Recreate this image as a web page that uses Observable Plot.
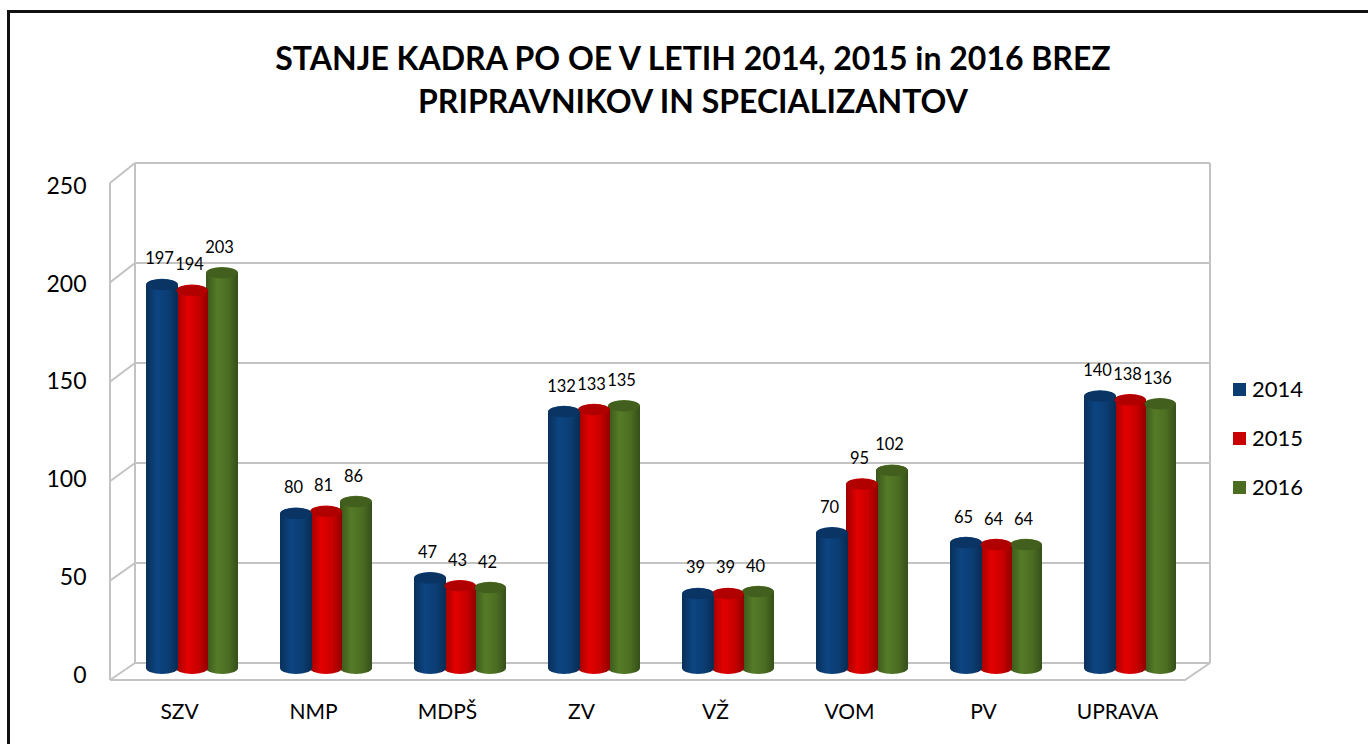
<!DOCTYPE html>
<html><head><meta charset="utf-8">
<script src="https://cdn.jsdelivr.net/npm/d3@7"></script>
<script src="https://cdn.jsdelivr.net/npm/@observablehq/plot@0.6"></script>
<style>
body{margin:0;background:#fff;font-family:Lato,"Open Sans",sans-serif;}
#wrap{position:relative;width:1368px;height:744px;overflow:hidden;}
#frame{position:absolute;left:7px;top:10px;width:2000px;height:2000px;border-left:3px solid #111;border-top:3px solid #111;pointer-events:none;}
#title{height:140px;box-sizing:border-box;padding-top:36px;padding-left:18px;text-align:center;font-weight:bold;font-size:32px;line-height:43px;color:#000;}
#legend{position:absolute;left:1233px;top:375px;font-size:22px;color:#000;}
#legend div{height:49px;display:flex;align-items:flex-start;}
#legend span.sw{display:inline-block;width:13px;height:13px;margin-top:8px;margin-right:6px;}
</style></head>
<body><div id="wrap"><div id="frame"></div>
<div id="title">STANJE KADRA PO OE V LETIH 2014, 2015 in 2016 BREZ<br>PRIPRAVNIKOV IN SPECIALIZANTOV</div>
<div id="chart"></div>
<div id="legend"></div>
</div>
<script>
const categories = ["SZV","NMP","MDPŠ","ZV","VŽ","VOM","PV","UPRAVA"];
const years = ["2014","2015","2016"];
const values2014 = [197,80,47,132,39,70,65,140];
const values2015 = [194,81,43,133,39,95,64,138];
const values2016 = [203,86,42,135,40,102,64,136];
const yTicks = [0,50,100,150,200,250];
const seriesColors = ["#0b3d73","#c80000","#4b6d22"];
const capColors = ["#093463","#b00000","#425f1d"];

const seriesValues = [values2014, values2015, values2016];
const rows = [];
years.forEach((yr, i) => categories.forEach((c, j) => rows.push({cat: c, year: yr, i, value: seriesValues[i][j]})));

const barW = 32, barStep = 30;
const marks = [];
// draw 2016 first so earlier years overlap it
for (let i = years.length - 1; i >= 0; i--) {
  marks.push(Plot.barY(rows.filter(d => d.i === i), {
    x: "cat", y: "value", fill: `url(#cyl${i})`,
    insetLeft: i * barStep, insetRight: 92 - (i * barStep + barW),
    insetTop: -6, insetBottom: -4, rx: barW / 2, ry: 6
  }));
}
years.forEach((yr, i) => {
  marks.push(Plot.text(rows.filter(d => d.i === i), {
    x: "cat", y: "value", text: d => String(d.value),
    dx: barStep * i - 30 - 3, dy: -26, fontSize: 16.5, fill: "#000"
  }));
});
marks.push(Plot.axisY(yTicks, {tickSize: 0, tickPadding: 38, dy: 5, fontSize: 23, tickFormat: d => String(d)}));
marks.push(Plot.axisX({tickSize: 0, tickPadding: 34, dx: -13, fontSize: 21}));

const plot = Plot.plot({
  width: 1368, height: 604,
  marginTop: 41, marginBottom: 74, marginLeft: 124, marginRight: 170,
  x: {domain: categories, paddingInner: 0.3147, paddingOuter: 0.1574, label: null},
  y: {domain: [0, 250], label: null},
  style: {fontFamily: "Lato, 'Open Sans', sans-serif", color: "#000", background: "transparent", overflow: "visible"},
  marks
});
document.getElementById("chart").appendChild(plot);

// gradients for cylinders
const svg = d3.select(plot);
const defs = svg.insert("defs", ":first-child");
seriesColors.forEach((c, i) => {
  const base = d3.color(c);
  const g = defs.append("linearGradient").attr("id", `cyl${i}`).attr("x1", 0).attr("x2", 1).attr("y1", 0).attr("y2", 0);
  g.append("stop").attr("offset", "0%").attr("stop-color", base.darker(0.7));
  g.append("stop").attr("offset", "35%").attr("stop-color", base.brighter(0.35));
  g.append("stop").attr("offset", "70%").attr("stop-color", base);
  g.append("stop").attr("offset", "100%").attr("stop-color", base.darker(0.9));
});

// 3D frame (walls and floor) using the plot's scales
const xs = plot.scale("x"), ys = plot.scale("y");
const s0 = ys.apply(0), s250 = ys.apply(250);
const back = t => 523 + (ys.apply(t) - s0) * 500 / (s0 - s250);
const front = t => 540 + (ys.apply(t) - s0) * 497 / (s0 - s250);
const bl = xs.range[0] + 11, br = xs.range[1] + 12, fl = xs.range[0] - 14, fr = xs.range[1] - 13;
const grid = svg.insert("g", "g").attr("stroke", "#c3c3c3").attr("stroke-width", 2).attr("fill", "none");
yTicks.forEach(t => {
  grid.append("line").attr("x1", bl).attr("x2", br).attr("y1", back(t)).attr("y2", back(t));
  grid.append("line").attr("x1", fl).attr("x2", bl).attr("y1", front(t)).attr("y2", back(t));
});
grid.append("line").attr("x1", bl).attr("x2", bl).attr("y1", back(0)).attr("y2", back(250));
grid.append("line").attr("x1", br).attr("x2", br).attr("y1", back(0)).attr("y2", back(250));
grid.append("line").attr("x1", fl).attr("x2", fl).attr("y1", front(0)).attr("y2", front(250));
grid.append("polyline").attr("points", `${fl},${front(0)} ${fr},${front(0)} ${br},${back(0)}`);

// cylinder caps
const caps = svg.append("g");
for (let i = years.length - 1; i >= 0; i--) {
  rows.filter(d => d.i === i).forEach(d => {
    caps.append("ellipse")
      .attr("cx", xs.apply(d.cat) + i * barStep + barW / 2)
      .attr("cy", ys.apply(d.value))
      .attr("rx", barW / 2 - 0.5).attr("ry", 5.5)
      .attr("fill", capColors[i]);
  });
}

// legend
const lg = d3.select("#legend");
years.forEach((yr, i) => {
  const row = lg.append("div");
  row.append("span").attr("class", "sw").style("background", seriesColors[i]);
  row.append("span").text(yr);
});
</script></body></html>
